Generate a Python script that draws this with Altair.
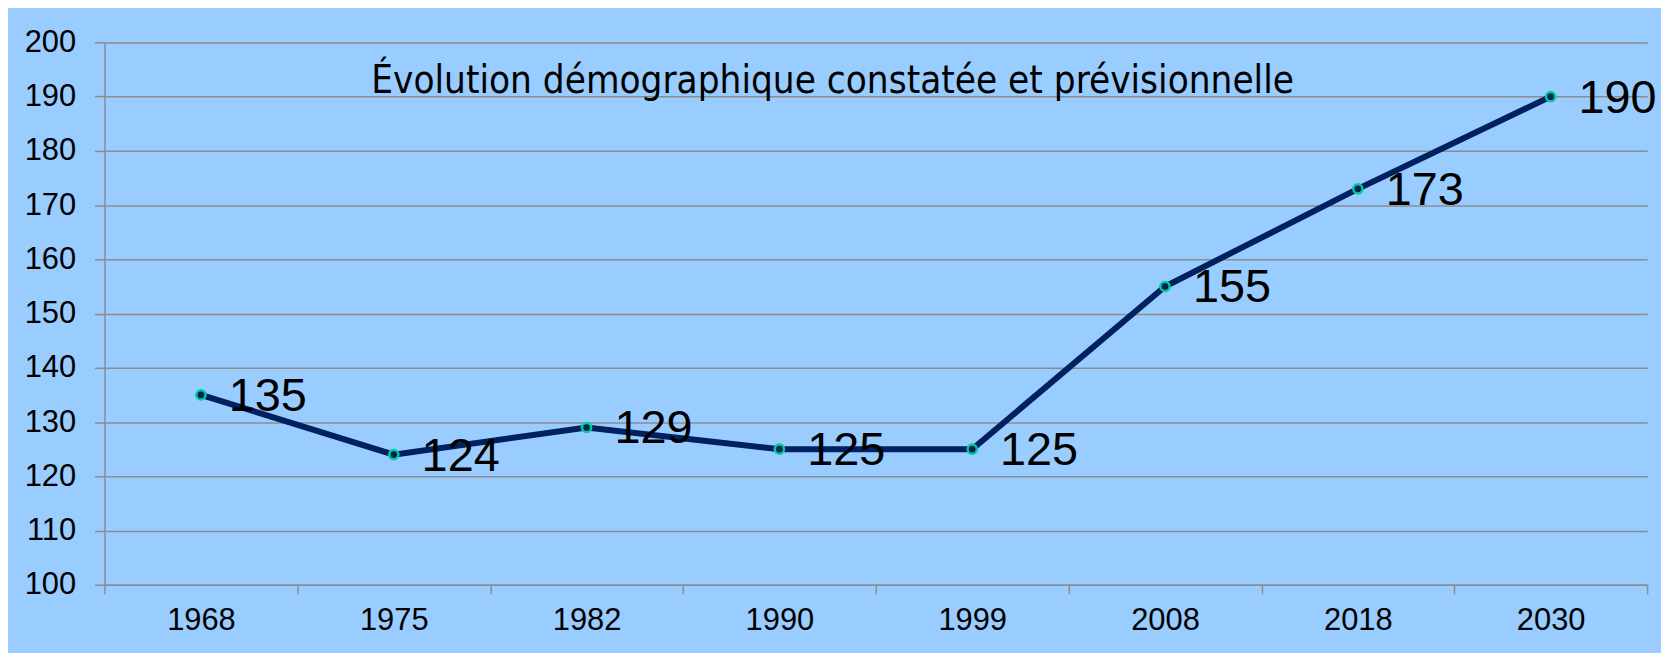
import altair as alt
import pandas as pd

years = ["1968", "1975", "1982", "1990", "1999", "2008", "2018", "2030"]
population = [135, 124, 129, 125, 125, 155, 173, 190]
y_ticks = [100, 110, 120, 130, 140, 150, 160, 170, 180, 190, 200]
title_text = "Évolution démographique constatée et prévisionnelle"

df = pd.DataFrame({"annee": years, "population": population})
title_df = pd.DataFrame({"titre": [title_text]})

BG = "#99CCFF"
NAVY = "#002060"
TEAL = "#00CC99"
GRID = "#8C8C8C"
FONT = "Liberation Sans, Arial, sans-serif"
TITLE_FONT = "Liberation Sans Narrow, Arial Narrow, DejaVu Sans Condensed, sans-serif"

x = alt.X(
    "annee:N",
    sort=years,
    title=None,
    scale=alt.Scale(paddingInner=0, paddingOuter=0),
    axis=alt.Axis(
        labelAngle=0,
        labelFontSize=31,
        labelFont=FONT,
        labelColor="black",
        labelPadding=12,
        tickBand="extent",
        tickSize=9,
        tickColor=GRID,
        tickWidth=1.5,
        domainColor=GRID,
        domainWidth=1.5,
        grid=False,
    ),
)
y = alt.Y(
    "population:Q",
    title=None,
    scale=alt.Scale(domain=[100, 200], nice=False, zero=False),
    axis=alt.Axis(
        values=y_ticks,
        labelFontSize=31,
        labelFont=FONT,
        labelColor="black",
        labelPadding=19,
        tickSize=10,
        tickColor=GRID,
        tickWidth=1.5,
        domainColor=GRID,
        domainWidth=1.5,
        grid=True,
        gridColor=GRID,
        gridWidth=1.5,
    ),
)

base = alt.Chart(df).encode(x=x, y=y)

line = base.mark_line(color=NAVY, strokeWidth=6)
points = base.mark_circle(size=85, color=NAVY, opacity=1, stroke=TEAL, strokeWidth=2.5)
labels = base.mark_text(
    align="left", baseline="middle", dx=28, dy=2, fontSize=47, font=FONT, color="black"
).encode(text="population:Q")

title_mark = alt.Chart(title_df).mark_text(
    align="left", baseline="alphabetic", fontSize=38.5, font=TITLE_FONT, color="black"
).encode(text="titre:N", x=alt.value(268), y=alt.value(51))

chart = (
    alt.layer(line, points, labels, title_mark)
    .properties(
        width=1550,
        height=545,
        padding={"left": 97, "top": 33, "right": 14, "bottom": 67},
        autosize=alt.AutoSizeParams(type="none"),
        background=BG,
    )
    .configure_view(stroke=None, fill=BG)
)

chart.save("out.html", embed_options={"renderer": "svg", "actions": False})
